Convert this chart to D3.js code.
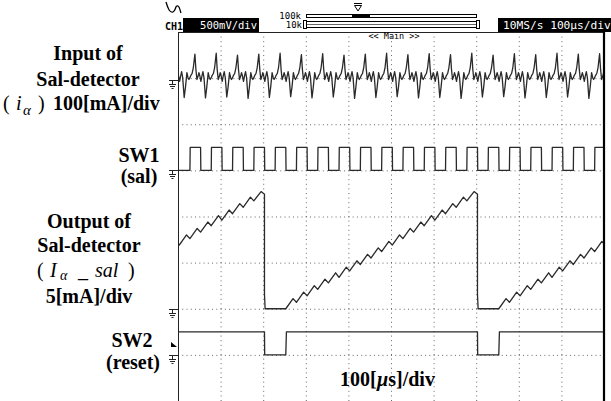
<!DOCTYPE html>
<html>
<head>
<meta charset="utf-8">
<script src="https://cdn.jsdelivr.net/npm/d3@7"></script>
<style>
  body { margin: 0; background: #fff; }
  svg { display: block; }
</style>
</head>
<body>
<div id="chart"></div>
<script>
// Scope screen: 10 div x 100 us across, 8 div high.
const timeTicks = [100, 200, 300, 400, 500, 600, 700, 800, 900];
const divTicks = [1, 2, 3, 4, 5, 6, 7];

// SW1 (sal) square wave, edges in us
const sw1Rise = [28, 78, 128, 178, 228, 278, 328, 378, 428, 478, 528, 578, 628, 678, 728, 778, 828, 878, 928, 978];
const sw1Fall = [53, 103, 153, 203, 253, 303, 353, 403, 453, 503, 553, 603, 653, 703, 753, 803, 853, 903, 953, 1003];

// Input i_alpha: shape of one 50 us cycle, phase measured from the SW1 rising edge (mA)
const inputPhase = [0, 2.3, 5, 8, 11.7, 14, 16.4, 19, 21.1, 23.5, 25.8, 28, 30.5, 33, 36.5, 39.5, 42.9, 45.5, 47.6];
const inputShape = [5, 10, 14, 27, 55, 23, 1, 8, 16, 8, -3, 8, 18, 5, -38, -16, 16, 5, 1];
// cycle start times (first one begins before the screen) with their spike tops and dips
const inputCycles = [-22, 28, 78, 128, 178, 228, 278, 328, 378, 428, 478, 528, 578, 628, 678, 728, 778, 828, 878, 928, 978];
const inputPeak = [55, 56, 58, 54, 56, 58, 55, 57, 54, 56, 58, 55, 57, 55, 58, 54, 57, 55, 58, 56, 57];
const inputDip = [-38, -39, -37, -40, -38, -36, -39, -37, -40, -38, -36, -39, -38, -40, -37, -36, -39, -38, -37, -40, -38];

// Output I_alpha_sal (mA): ramp released after each reset, 25 us ripple
const releaseTimes = [-247, 253, 753];
const resetLen = 50;
const rippleStep = 25;
const rippleRise = 17;
const rampTrough = [0, 0.7, 1.4, 2.1, 2.8, 3.4, 4.1, 4.8, 5.5, 6.2, 6.9, 7.6, 8.3, 9.0, 9.6, 10.3, 11.0, 11.7, 12.4];
const rampPeak = [1.1, 1.8, 2.5, 3.2, 3.9, 4.5, 5.2, 5.9, 6.6, 7.3, 8.0, 8.7, 9.4, 10.1, 10.7, 11.4, 12.1, 12.7];
const dropKnee = 1.6;

// SW2 (reset) pulses
const resetStart = [203, 703];
const resetEnd = [253, 753];

// channel ground positions (div from bottom) and scales
const IN_GND = 6.96, IN_PER_DIV = 100;
const SW1_GND = 5, SW1_HIGH = 0.5;
const OUT_GND = 2, OUT_PER_DIV = 5;
const SW2_GND = 1, SW2_HIGH = 0.5;

const width = 611, height = 401;
const L = 178, R = 604, T = 32, B = 401;
const INK = '#222';
const TRACE = '#2a2a2a';
const GRID = '#666';

const svg = d3.select('#chart').append('svg')
    .attr('width', width).attr('height', height)
    .attr('viewBox', `0 0 ${width} ${height}`);

const x = d3.scaleLinear().domain([0, 1000]).range([L, R]);
const y = d3.scaleLinear().domain([0, 8]).range([B, T]);

// Grid (dotted)
svg.append('g').attr('transform', `translate(0,${B})`)
    .call(d3.axisBottom(x).tickValues(timeTicks).tickSize(-(B - T)).tickFormat(''))
    .call((g) => g.select('.domain').remove())
    .call((g) => g.selectAll('line').attr('stroke', GRID).attr('stroke-dasharray', '1,3.6'));
svg.append('g').attr('transform', `translate(${L},0)`)
    .call(d3.axisLeft(y).tickValues(divTicks).tickSize(-(R - L)).tickFormat(''))
    .call((g) => g.select('.domain').remove())
    .call((g) => g.selectAll('line').attr('stroke', GRID).attr('stroke-dasharray', '1,3.26'));

// Frame
svg.append('line').attr('x1', L + 0.5).attr('x2', L + 0.5).attr('y1', T).attr('y2', B).attr('stroke', INK);
svg.append('line').attr('x1', L).attr('x2', R).attr('y1', T + 0.5).attr('y2', T + 0.5).attr('stroke', INK);
svg.append('line').attr('x1', R).attr('x2', R).attr('y1', T).attr('y2', B).attr('stroke', '#000').attr('stroke-width', 2.2);

svg.append('defs').append('clipPath').attr('id', 'plot')
    .append('rect').attr('x', L + 1).attr('y', T + 1).attr('width', R - L - 2).attr('height', B - T);

// ---- build traces ----
const inputPts = [];
inputCycles.forEach((t0, k) => {
    inputPhase.forEach((p, i) => {
        let v = inputShape[i];
        if (i === 4) v = inputPeak[k];
        if (i === 14) v = inputDip[k];
        inputPts.push([t0 + p, IN_GND + v / IN_PER_DIV]);
    });
});

const sw1Pts = [[-50, SW1_GND]];
sw1Rise.forEach((t, i) => {
    sw1Pts.push([t, SW1_GND], [t + 0.6, SW1_GND + SW1_HIGH],
        [sw1Fall[i], SW1_GND + SW1_HIGH], [sw1Fall[i] + 0.6, SW1_GND]);
});

const outPts = [];
releaseTimes.forEach((rel, r) => {
    if (r > 0) {
        outPts.push([rel - resetLen, dropKnee], [rel - resetLen + 1.5, 0], [rel, 0]);
    }
    rampTrough.forEach((v, k) => {
        const t = rel + k * rippleStep;
        outPts.push([t, v]);
        if (k < rampPeak.length) outPts.push([t + rippleRise, rampPeak[k]]);
    });
});
const outDiv = outPts.map(([t, v]) => [t, OUT_GND + v / OUT_PER_DIV]);

const sw2Pts = [[-50, SW2_GND + SW2_HIGH]];
resetStart.forEach((t, i) => {
    sw2Pts.push([t, SW2_GND + SW2_HIGH], [t + 0.5, SW2_GND],
        [resetEnd[i], SW2_GND], [resetEnd[i] + 1.5, SW2_GND + SW2_HIGH]);
});
sw2Pts.push([1050, SW2_GND + SW2_HIGH]);

const line = d3.line().x((d) => x(d[0])).y((d) => y(d[1]));
const traces = svg.append('g').attr('clip-path', 'url(#plot)');
[inputPts, sw1Pts, outDiv, sw2Pts].forEach((pts) => {
    traces.append('path')
        .attr('d', line(pts))
        .attr('fill', 'none')
        .attr('stroke', TRACE)
        .attr('stroke-width', 1.3)
        .attr('stroke-linejoin', 'round');
});

// Ground markers
[IN_GND, SW1_GND, OUT_GND, SW2_GND].forEach((gd) => {
    const gy = Math.round(y(gd)) + 0.5;
    const m = svg.append('g').attr('stroke', INK).attr('stroke-width', 1);
    m.append('line').attr('x1', 169).attr('x2', 178).attr('y1', gy).attr('y2', gy);
    m.append('line').attr('x1', 172.5).attr('x2', 172.5).attr('y1', gy).attr('y2', gy + 4);
    m.append('line').attr('x1', 169).attr('x2', 176).attr('y1', gy + 4).attr('y2', gy + 4);
    m.append('line').attr('x1', 170).attr('x2', 175).attr('y1', gy + 6).attr('y2', gy + 6);
    m.append('line').attr('x1', 171.5).attr('x2', 173.5).attr('y1', gy + 8).attr('y2', gy + 8);
});
// Trigger marker
svg.append('path').attr('d', 'M171,347 L177,347 L171,342 Z').attr('fill', '#000');

// ---- header ----
const mono = '"DejaVu Sans Mono", monospace';
svg.append('path').attr('d', 'M166,2 C168,9 170,13 173,12 C176,11 175,5 178,6 C180,7 180,11 181,13')
    .attr('fill', 'none').attr('stroke', '#000').attr('stroke-width', 1.3);
svg.append('text').attr('x', 165).attr('y', 30).attr('font-family', mono).attr('font-size', 10)
    .attr('font-weight', 'bold').attr('fill', '#000').text('CH1');
svg.append('rect').attr('x', 183).attr('y', 18).attr('width', 76).attr('height', 14).attr('fill', '#000');
svg.append('text').attr('x', 257).attr('y', 29).attr('text-anchor', 'end').attr('font-family', mono)
    .attr('font-size', 10.5).attr('fill', '#fff').text('500mV/div');
svg.append('rect').attr('x', 498).attr('y', 18).attr('width', 113).attr('height', 14).attr('fill', '#000');
svg.append('text').attr('x', 503).attr('y', 29).attr('font-family', mono)
    .attr('font-size', 11.2).attr('fill', '#fff').text('10MS/s 100µs/div');

svg.append('text').attr('x', 301).attr('y', 19).attr('text-anchor', 'end').attr('font-family', mono)
    .attr('font-size', 9).attr('fill', '#000').text('100k');
svg.append('text').attr('x', 302).attr('y', 28).attr('text-anchor', 'end').attr('font-family', mono)
    .attr('font-size', 9).attr('fill', '#000').text('10k');
svg.append('rect').attr('x', 306.5).attr('y', 14.5).attr('width', 170).attr('height', 3)
    .attr('fill', '#fff').attr('stroke', '#000');
svg.append('rect').attr('x', 352).attr('y', 14).attr('width', 18).attr('height', 4).attr('fill', '#000');
svg.append('line').attr('x1', 354).attr('x2', 362).attr('y1', 3.5).attr('y2', 3.5).attr('stroke', '#000');
svg.append('path').attr('d', 'M354.5,5.5 L361.5,5.5 L358,11 Z').attr('fill', 'none').attr('stroke', '#000');
svg.append('rect').attr('x', 306.5).attr('y', 21.5).attr('width', 170).attr('height', 6)
    .attr('fill', '#fff').attr('stroke', '#000');
svg.append('line').attr('x1', 307).attr('x2', 476).attr('y1', 24.5).attr('y2', 24.5).attr('stroke', '#666');
svg.append('rect').attr('x', 303.5).attr('y', 20.5).attr('width', 3).attr('height', 8)
    .attr('fill', '#fff').attr('stroke', '#000');
svg.append('rect').attr('x', 476.5).attr('y', 20.5).attr('width', 3).attr('height', 8)
    .attr('fill', '#fff').attr('stroke', '#000');
svg.append('text').attr('x', 394).attr('y', 39).attr('text-anchor', 'middle').attr('font-family', mono)
    .attr('font-size', 8.5).attr('fill', '#000').text('<< Main >>');

// ---- left labels ----
const serif = '"Liberation Serif", "Times New Roman", serif';
function label(tx, ty, s, anchor = 'middle') {
    return svg.append('text').attr('x', tx).attr('y', ty).attr('text-anchor', anchor)
        .attr('font-family', serif).attr('font-size', 20).attr('font-weight', 'bold')
        .attr('fill', '#000').text(s);
}
label(88, 60, 'Input of');
label(88, 86, 'Sal-detector');
label(139, 162, 'SW1');
label(139, 183, '(sal)');
label(89, 228, 'Output of');
label(89, 252, 'Sal-detector');
label(89, 303, '5[mA]/div');
label(132, 347, 'SW2');
label(133, 369, '(reset)');

const t1 = svg.append('text').attr('y', 110).attr('font-family', serif).attr('font-size', 20).attr('fill', '#000');
t1.append('tspan').attr('x', 3).text('(');
t1.append('tspan').attr('x', 16).attr('font-style', 'italic').text('i');
t1.append('tspan').attr('x', 23).attr('y', 115).attr('font-size', 15).attr('font-style', 'italic').text('α');
t1.append('tspan').attr('x', 38).attr('y', 110).text(')');
t1.append('tspan').attr('x', 53).attr('font-weight', 'bold').text('100[mA]/div');

const t2 = svg.append('text').attr('y', 277).attr('font-family', serif).attr('font-size', 20).attr('fill', '#000');
t2.append('tspan').attr('x', 37).text('(');
t2.append('tspan').attr('x', 50).attr('font-style', 'italic').text('I');
t2.append('tspan').attr('x', 60).attr('y', 280).attr('font-size', 14).attr('font-style', 'italic').text('α');
t2.append('tspan').attr('x', 78).attr('y', 277).text('_');
t2.append('tspan').attr('x', 95).attr('font-style', 'italic').text('sal');
t2.append('tspan').attr('x', 128).text(')');

const t3 = svg.append('text').attr('x', 340).attr('y', 386).attr('font-family', serif)
    .attr('font-size', 20).attr('font-weight', 'bold').attr('fill', '#000');
t3.append('tspan').text('100[');
t3.append('tspan').attr('font-style', 'italic').text('µ');
t3.append('tspan').text('s]/div');
</script>
</body>
</html>
